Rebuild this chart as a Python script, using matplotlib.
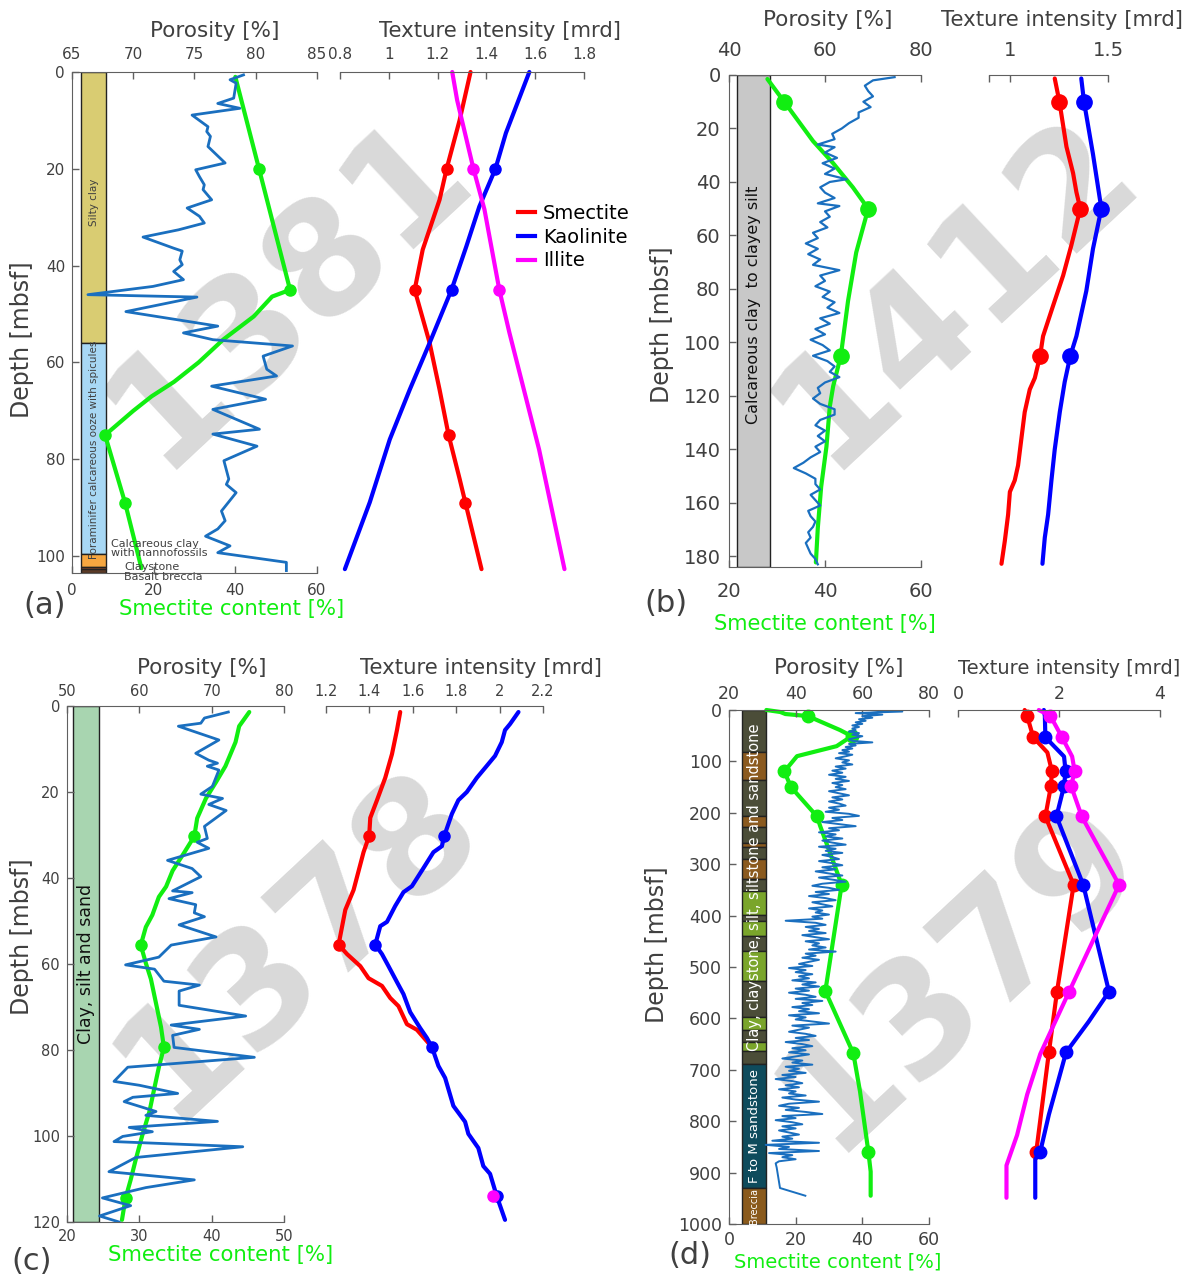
import numpy as np
import matplotlib
matplotlib.use('Agg')
import matplotlib.pyplot as plt
from matplotlib.patches import Rectangle
from matplotlib.lines import Line2D

#%% Data (depth [mbsf], value)

# --- Site 1381 (a)
por_a = np.array([
    [0.6, 79.0], [1.6, 77.9], [2.3, 78.4], [5.4, 78.2], [6.5, 76.9], [7.5, 78.7], [8.9, 74.8],
    [11.3, 76.1], [12.3, 76.0], [13.3, 76.3], [15.4, 76.1], [18.8, 77.5], [20.2, 75.1], [21.6, 75.4],
    [23.3, 75.8], [24.3, 75.7], [26.4, 76.4], [28.1, 74.4], [29.8, 75.4], [31.2, 75.8], [32.6, 73.7],
    [34.1, 70.8], [36.4, 73.3], [37.0, 74.0], [38.8, 73.8], [39.8, 74.0], [41.2, 73.3], [42.9, 74.1],
    [44.3, 71.6], [46.0, 66.3], [46.5, 75.2], [49.5, 69.4], [52.5, 76.9], [53.9, 74.1], [55.3, 76.5],
    [56.6, 83.0], [58.7, 80.6], [61.4, 80.9], [62.8, 81.7], [64.9, 76.4], [67.6, 80.8], [69.7, 76.5],
    [73.8, 80.3], [74.8, 76.5], [77.3, 80.1], [80.3, 77.4], [84.1, 77.8], [85.2, 77.6], [86.9, 78.4],
    [90.7, 77.2], [92.7, 77.5], [94.4, 76.9], [95.9, 75.9], [97.9, 77.9], [99.3, 76.9], [101.3, 82.5],
    [103.0, 82.5]])
smec_a = np.array([[1, 40], [20, 45.8], [45, 53.4], [46.4, 49], [50.5, 44.5], [55.3, 37], [60, 31],
                   [64, 25], [67, 19.5], [70, 15], [75, 8.1], [89, 13], [102.5, 17]])
smec_a_marks = [1, 2, 10, 11]
red_a = np.array([[0, 1.335], [10, 1.29], [20, 1.237], [26.4, 1.208], [36.7, 1.139], [45, 1.106],
                  [55.9, 1.167], [65.6, 1.208], [75, 1.245], [84, 1.29], [89, 1.314], [102.7, 1.38]])
red_a_marks = [2, 5, 8, 10]
blue_a = np.array([[0, 1.576], [12.6, 1.48], [20, 1.437], [27.8, 1.371], [36, 1.318], [45, 1.257],
                   [56, 1.167], [65.6, 1.086], [75.9, 1.004], [88.9, 0.922], [102.7, 0.82]])
blue_a_marks = [2, 5]
mag_a = np.array([[0, 1.26], [5.8, 1.28], [20, 1.347], [28.4, 1.392], [45, 1.453], [53.8, 1.494],
                  [78, 1.616], [102.7, 1.72]])
mag_a_marks = [2, 4]
lith_a_top = [0, 56, 99.6, 102.2, 102.6]
lith_a_base = [56, 99.6, 102.2, 102.6, 103.5]
lith_a_col = ['#d9cc72', '#a8d8f5', '#f5a640', '#a0522d', '#5b3a26']

# --- Site 1412 (b)
por_b = np.array([
    [0.8, 74.5], [2, 70], [4, 68.3], [6, 69], [8, 70], [10, 68], [12, 69.5], [14, 67], [16, 67],
    [18, 65], [20, 63.5], [22, 61.5], [24, 62], [26, 58.5], [27, 62], [29, 60], [31, 62.5], [33, 59.5],
    [35, 62], [37, 60], [39, 64.5], [40, 61], [42, 59], [44, 60], [46, 62], [48, 58.5], [49, 63],
    [51, 60], [53, 61], [55, 59], [57, 60.5], [59, 57.5], [61, 58.5], [63, 56], [65, 58.5], [67, 56.5],
    [69, 59], [71, 57.5], [73, 63], [75, 59], [77, 60], [79, 58], [81, 61], [83, 59.5], [85, 62],
    [87, 60.5], [89, 63], [91, 59], [93, 61], [95, 58], [97, 60], [99, 57], [101, 59.5], [103, 61],
    [105, 57.5], [107, 60.5], [109, 62], [111, 61], [113, 63], [115, 60], [117, 58.5], [119, 59],
    [121, 57.5], [123, 59], [125, 62], [127, 62], [129, 59], [131, 58], [133, 60], [135, 58.5],
    [137, 60], [139, 58], [141, 59], [143, 57], [145, 55.5], [147, 53.5], [149, 56], [151, 58],
    [153, 58], [155, 59], [157, 57], [159, 58], [161, 59], [163, 56.5], [165, 57], [167, 58],
    [169, 57.5], [171, 56.5], [173, 57], [175, 56], [177, 56.5], [179, 57], [181, 58], [183, 58.5]])
smec_b = np.array([[1.5, 28.0], [10, 31.5], [24.7, 37.5], [33, 41.7], [42, 45.8], [50, 49],
                   [66.4, 46.5], [84.5, 44.8], [105, 43.3], [116.4, 41.7], [124, 41.0], [139, 40.3],
                   [154, 39.2], [169.4, 38.5], [182.3, 38.1]])
smec_b_marks = [1, 5, 8]
red_b = np.array([[1.3, 1.227], [10, 1.251], [26.8, 1.287], [36.7, 1.321], [43.8, 1.338], [50, 1.358],
                  [63.7, 1.312], [75, 1.270], [86.4, 1.218], [97.7, 1.167], [105, 1.152], [113.3, 1.125],
                  [117.6, 1.099], [126.1, 1.073], [136, 1.056], [146, 1.039], [151.6, 1.022],
                  [155.9, 0.997], [164.4, 0.988], [174.3, 0.971], [182.8, 0.954]])
red_b_marks = [1, 5, 10]
blue_b = np.array([[1.3, 1.363], [10, 1.377], [29.6, 1.423], [50, 1.466], [65, 1.423], [80.7, 1.389],
                   [97.7, 1.338], [105, 1.307], [114.8, 1.278], [126, 1.253], [140, 1.227],
                   [151.6, 1.210], [164.4, 1.193], [173, 1.176], [182.8, 1.164]])
blue_b_marks = [1, 3, 7]

# --- Site 1378 (c)
por_c = np.array([
    [1.4, 72.3], [2.8, 69.0], [4.0, 68.5], [4.7, 65.4], [7.9, 71.0], [11.0, 67.8], [12.6, 69.6],
    [13.3, 70.8], [14.0, 69.4], [14.9, 71.0], [18.7, 70.1], [20.5, 68.5], [21.5, 71.5], [22.9, 69.6],
    [24.3, 72.0], [28.0, 69.0], [30.8, 69.4], [31.7, 68.0], [33.1, 69.6], [35.9, 63.9], [37.8, 67.3],
    [39.7, 68.5], [43.0, 64.6], [43.4, 67.3], [44.8, 64.1], [46.2, 67.8], [48.1, 67.6], [49.0, 69.0],
    [50.9, 65.5], [53.7, 70.6], [55.6, 64.4], [58.4, 62.7], [60.2, 58.1], [61.2, 62.1], [64.0, 63.4],
    [64.9, 68.3], [66.3, 65.5], [69.6, 65.5], [72.1, 74.7], [74.2, 64.4], [75.2, 68.3], [76.6, 64.6],
    [79.4, 64.8], [81.7, 75.9], [84.0, 58.4], [87.3, 56.5], [88.2, 60.0], [90.1, 65.3], [91.0, 59.1],
    [92.0, 57.9], [94.3, 62.3], [95.2, 60.9], [96.6, 70.8], [98.0, 58.6], [99.0, 61.8], [100.1, 57.7],
    [101.3, 56.5], [102.5, 74.3], [105.0, 59.5], [108.3, 55.8], [110.2, 67.6], [112.0, 60.9],
    [114.4, 54.9], [116.2, 58.8], [118.6, 54.5], [120.0, 57.2]])
smec_c = np.array([[1.4, 45.2], [4.7, 43.8], [8.4, 43.3], [14, 41.9], [17.7, 40.6], [21.5, 39.2],
                   [26.1, 38.0], [30.3, 37.6], [34.1, 36.2], [38.3, 34.6], [42, 33.7], [44.4, 32.7],
                   [48.6, 31.8], [51.4, 30.9], [55.6, 30.2], [59.8, 30.9], [63.5, 31.6], [69.1, 32.3],
                   [74.7, 33.0], [79.4, 33.4], [84, 32.7], [88.7, 32.1], [94.3, 31.4], [99.9, 30.4],
                   [105.5, 29.5], [110.2, 28.8], [114.4, 28.1], [119.5, 27.6]])
smec_c_marks = [7, 14, 19, 26]
red_c = np.array([[1.4, 1.542], [5.6, 1.527], [11.2, 1.504], [16.7, 1.473], [21.9, 1.435], [26, 1.404],
                  [30.2, 1.399], [34, 1.373], [42.8, 1.327], [47.4, 1.289], [55.5, 1.258], [57.7, 1.297],
                  [60.5, 1.358], [63.3, 1.396], [65.1, 1.458], [67.9, 1.496], [69.8, 1.534], [74, 1.573],
                  [75.3, 1.619], [79.3, 1.688]])
red_c_marks = [6, 10]
blue_c = np.array([[1.4, 2.087], [4.2, 2.048], [5.6, 2.025], [8.4, 2.010], [11.6, 1.979], [14.4, 1.933],
                   [16.7, 1.895], [20, 1.849], [21.9, 1.810], [25.1, 1.780], [30.2, 1.745], [32.6, 1.734],
                   [34, 1.695], [37.7, 1.649], [41.9, 1.596], [43.3, 1.557], [46.5, 1.519], [50.2, 1.481],
                   [51.2, 1.450], [55.5, 1.427], [57.7, 1.458], [60.5, 1.488], [64.2, 1.527], [67, 1.557],
                   [71.2, 1.588], [74.9, 1.634], [77.2, 1.665], [79.3, 1.688], [83.7, 1.718], [86.5, 1.749],
                   [93, 1.787], [96.7, 1.841], [99.5, 1.856], [102.8, 1.902], [107, 1.925], [108.8, 1.956],
                   [114, 1.987], [119.5, 2.025]])
blue_c_marks = [10, 19, 27, 36]
mag_c = np.array([[114, 1.971]])

# --- Site 1379 (d)
por_d = np.array([
    [0, 62], [3, 72], [6, 58], [9, 66], [12, 60], [15, 63], [18, 59], [21, 61], [24, 58], [27, 60],
    [30, 57], [33, 59], [36, 57], [39, 58], [42, 56], [45, 59], [48, 57], [51, 60], [54, 58], [57, 56],
    [60, 57], [63, 63], [66, 56], [69, 58], [72, 55], [75, 57], [78, 54], [81, 56], [84, 53], [87, 57],
    [90, 55], [94, 52], [98, 56], [102, 54], [106, 57], [110, 52], [114, 55], [118, 51], [122, 54],
    [126, 50], [130, 55], [134, 52], [138, 56], [142, 51], [146, 54], [150, 52], [154, 55], [158, 50],
    [162, 53], [166, 56], [170, 51], [174, 54], [178, 50], [182, 53], [186, 55], [190, 50], [194, 53],
    [198, 49], [202, 56], [206, 59], [210, 51], [214, 54], [218, 48], [222, 53], [226, 58], [230, 50],
    [234, 53], [238, 47], [242, 52], [246, 49], [250, 54], [254, 48], [258, 51], [262, 55], [266, 47],
    [270, 52], [274, 49], [278, 54], [282, 48], [286, 51], [290, 53], [294, 47], [298, 51], [302, 54],
    [306, 48], [310, 52], [314, 46], [318, 50], [322, 54], [326, 47], [330, 51], [334, 55], [338, 48],
    [342, 45], [346, 50], [350, 53], [354, 46], [358, 50], [362, 44], [366, 49], [370, 52], [374, 45],
    [378, 48], [382, 51], [386, 44], [390, 48], [394, 46], [398, 50], [402, 45], [406, 48], [410, 37],
    [414, 46], [418, 49], [422, 43], [426, 47], [430, 44], [434, 49], [438, 42], [442, 46], [446, 50],
    [450, 43], [454, 47], [458, 45], [462, 49], [466, 44], [470, 52], [474, 43], [478, 46], [482, 42],
    [486, 47], [490, 44], [494, 41], [498, 45], [502, 38], [506, 43], [510, 40], [514, 45], [518, 41],
    [522, 44], [526, 39], [530, 46], [534, 42], [538, 47], [542, 40], [546, 44], [550, 38], [554, 43],
    [558, 46], [562, 40], [566, 48], [570, 42], [574, 45], [578, 39], [582, 44], [586, 41], [590, 47],
    [594, 38], [598, 43], [602, 40], [606, 45], [610, 50], [614, 39], [618, 44], [622, 41], [626, 38],
    [630, 43], [634, 46], [638, 40], [642, 44], [646, 37], [650, 42], [654, 45], [658, 39], [662, 43],
    [666, 38], [670, 44], [674, 40], [678, 36], [682, 42], [686, 39], [690, 45], [694, 37], [698, 41],
    [702, 38], [706, 43], [710, 36], [714, 40], [718, 34], [722, 39], [726, 42], [730, 37], [734, 41],
    [738, 35], [742, 40], [746, 38], [750, 43], [754, 36], [758, 40], [762, 47], [766, 38], [770, 35],
    [774, 41], [778, 37], [782, 43], [786, 48], [790, 36], [794, 40], [798, 34], [802, 39], [806, 42],
    [810, 36], [814, 40], [818, 35], [822, 38], [826, 41], [830, 36], [834, 39], [838, 33], [842, 47],
    [846, 31], [850, 38], [854, 35], [858, 47], [862, 32], [866, 39], [870, 36], [874, 40], [878, 35],
    [882, 34], [890, 34.3], [930, 35.3], [945, 42.9]])
smec_d = np.array([[0, 11.2], [3.9, 15.4], [7.8, 16.9], [11.7, 23.6], [39, 33.3], [50.8, 36.8],
                   [70.3, 32.3], [89.8, 20.4], [101.6, 18.9], [119.5, 16.6], [150, 18.6], [207, 26.4],
                   [226.6, 27.4], [340, 33.8], [547, 28.9], [668, 37.3], [742, 39.3], [859, 41.8],
                   [898, 42.5], [945, 42.5]])
smec_d_marks = [3, 5, 9, 10, 11, 13, 14, 15, 17]
red_d = np.array([[0, 1.32], [11.7, 1.37], [53, 1.49], [82.7, 1.77], [119, 1.86], [148, 1.84],
                  [207, 1.73], [340, 2.29], [548, 1.96], [666, 1.80], [859, 1.55]])
red_d_marks = [1, 2, 4, 5, 6, 7, 8, 9, 10]
blue_d = np.array([[0, 1.70], [11.7, 1.72], [53, 1.73], [90.5, 2.10], [119, 2.13], [148, 2.10],
                   [207, 1.95], [340, 2.48], [548, 2.99], [606, 2.59], [666, 2.14], [716, 2.0],
                   [787, 1.80], [859, 1.63], [874, 1.53], [949, 1.53]])
blue_d_marks = [2, 4, 5, 6, 7, 8, 10, 13]
mag_d = np.array([[0, 1.60], [11.7, 1.83], [53, 2.06], [90.5, 2.26], [119, 2.31], [148, 2.24],
                  [207, 2.45], [340, 3.19], [548, 2.20], [669, 1.63], [748, 1.37], [827, 1.17],
                  [886, 0.96], [949, 0.96]])
mag_d_marks = [1, 2, 4, 5, 6, 7, 8]
lith_d_top = [0, 82, 137, 207, 227, 258, 266, 289, 328, 352, 398, 410, 439, 469, 527, 598, 623, 645, 664, 688, 930]
lith_d_base = [82, 137, 207, 227, 258, 266, 289, 328, 352, 398, 410, 439, 469, 527, 598, 623, 645, 664, 688, 930, 1000]
lith_d_kind = ['o', 'b', 'o', 'b', 'o', 'b', 'o', 'b', 'o', 'g', 'o', 'g', 'o', 'g', 'o', 'g', 'o', 'g', 'o', 't', 'r']

#%% Figure helpers

W, H = 1191, 1279
fig = plt.figure(figsize=(W / 100, H / 100), dpi=100)

GRAY = '#404040'
SPINE = '#606060'
GREEN = '#11ee11'
PORBLUE = '#1a6fbf'
LITH_D_COLORS = {'o': '#4b4d38', 'b': '#8b5a1f', 'g': '#7aa52b', 't': '#0e4b5c', 'r': '#8a5a1c'}


def box(l, t, r, b):
    return [l / W, 1 - b / H, (r - l) / W, (b - t) / H]


def ftext(x, y, s, **kw):
    fig.text(x / W, 1 - y / H, s, **kw)


def style_ticks(ax, fs, xpad, ypad=4):
    ax.tick_params(direction='in', length=5, width=1, colors=SPINE, labelcolor=GRAY, labelsize=fs)
    ax.tick_params(axis='x', pad=xpad)
    ax.tick_params(axis='y', pad=ypad)
    for s in ax.spines.values():
        s.set_color(SPINE)


def main_axes(b, sm_lim, sm_ticks, por_lim, por_ticks, dmax, dticks, fs, xpad, ypad):
    ax = fig.add_axes(box(*b))
    ax.set_facecolor('none')
    ax.set_xlim(sm_lim)
    ax.set_xticks(sm_ticks)
    ax.set_ylim(dmax, 0)
    ax.set_yticks(dticks)
    ax.spines['right'].set_visible(False)
    ax.spines['top'].set_visible(False)
    style_ticks(ax, fs, xpad, ypad)
    axp = ax.twiny()
    axp.set_facecolor('none')
    axp.set_xlim(por_lim)
    axp.set_xticks(por_ticks)
    for s in ['right', 'left', 'bottom']:
        axp.spines[s].set_visible(False)
    style_ticks(axp, fs, xpad)
    axp.set_zorder(ax.get_zorder() + 1)
    return ax, axp


def tex_axes(b, lim, ticks, labels, dmax, fs, xpad):
    ax = fig.add_axes(box(*b))
    ax.set_facecolor('none')
    ax.set_xlim(lim)
    ax.set_ylim(dmax, 0)
    ax.xaxis.tick_top()
    ax.set_xticks(ticks)
    ax.set_xticklabels(labels)
    ax.set_yticks([])
    for s in ['left', 'right', 'bottom']:
        ax.spines[s].set_visible(False)
    style_ticks(ax, fs, xpad)
    return ax


def series(ax, data, color, marks=None, lw=3, ms=9):
    ax.plot(data[:, 1], data[:, 0], color=color, lw=lw, solid_capstyle='round', clip_on=False)
    if marks is not None:
        ax.plot(data[marks, 1], data[marks, 0], 'o', color=color, ms=ms, clip_on=False)


def lith(ax, tops, bases, colors, x0, x1):
    tr = ax.get_yaxis_transform()
    for t, bb, c in zip(tops, bases, colors):
        ax.add_patch(Rectangle((x0, t), x1 - x0, bb - t, transform=tr, facecolor=c,
                               edgecolor='#222222', lw=1, zorder=1))


def watermark(x, y, s):
    ftext(x, y, s, rotation=43, fontsize=112, color='#d9d9d9', ha='center', va='center',
          fontweight='bold', zorder=-5, rotation_mode='anchor')


#%% Panel (a) - 1381
watermark(288, 292, '1381')
ax, axp = main_axes((72, 72, 317, 573), (0, 60), [0, 20, 40, 60], (65, 85), [65, 70, 75, 80, 85],
                    103.5, [0, 20, 40, 60, 80, 100], 11, 7, 5)
lith(ax, lith_a_top, lith_a_base, lith_a_col, 0.037, 0.139)
tr = ax.get_yaxis_transform()
ax.text(0.088, 27, 'Silty clay', rotation=90, transform=tr, ha='center', va='center', fontsize=7.5, color=GRAY)
ax.text(0.088, 78, 'Foraminifer calcareous ooze with spicules', rotation=90, transform=tr,
        ha='center', va='center', fontsize=7.5, color=GRAY)
axp.plot(por_a[:, 1], por_a[:, 0], color=PORBLUE, lw=2)
series(ax, smec_a, GREEN, smec_a_marks, ms=8)
ftext(111, 544, 'Calcareous clay', fontsize=8, color=GRAY, va='center')
ftext(111, 553, 'with nannofossils', fontsize=8, color=GRAY, va='center')
ftext(124, 567, 'Claystone', fontsize=8, color=GRAY, va='center')
ftext(124, 577, 'Basalt breccia', fontsize=8, color=GRAY, va='center')

axt = tex_axes((340, 72, 584, 573), (0.8, 1.8), [0.8, 1, 1.2, 1.4, 1.6, 1.8],
               ['0.8', '1', '1.2', '1.4', '1.6', '1.8'], 103.5, 11, 7)
series(axt, red_a, 'red', red_a_marks, ms=8)
series(axt, blue_a, 'blue', blue_a_marks, ms=8)
series(axt, mag_a, 'magenta', mag_a_marks, ms=8)
handles = [Line2D([], [], color=c, lw=3) for c in ['red', 'blue', 'magenta']]
fig.legend(handles, ['Smectite', 'Kaolinite', 'Illite'], loc='upper left',
           bbox_to_anchor=(510 / W, 1 - 196 / H), frameon=False, fontsize=14,
           handlelength=0.9, handletextpad=0.4, labelspacing=0.25, borderaxespad=0)

ftext(215, 31, 'Porosity [%]', fontsize=15.5, color=GRAY, ha='center', va='center')
ftext(500, 31, 'Texture intensity [mrd]', fontsize=15.3, color=GRAY, ha='center', va='center')
ftext(232, 609, 'Smectite content [%]', fontsize=15.3, color=GREEN, ha='center', va='center')
ftext(22, 340, 'Depth [mbsf]', fontsize=17, color=GRAY, ha='center', va='center', rotation=90)
ftext(45, 605, '(a)', fontsize=22, color=GRAY, ha='center', va='center')

#%% Panel (b) - 1412
watermark(955, 292, '1412')
ax, axp = main_axes((729, 75, 921, 567), (20, 60), [20, 40, 60], (40, 80), [40, 60, 80],
                    184, [0, 20, 40, 60, 80, 100, 120, 140, 160, 180], 14, 11, 6)
lith(ax, [0], [184], ['#c8c8c8'], 0.042, 0.214)
ax.text(0.128, 86, 'Calcareous clay  to clayey silt', rotation=90, transform=ax.get_yaxis_transform(),
        ha='center', va='center', fontsize=11.5, color='#111111')
axp.plot(por_b[:, 1], por_b[:, 0], color=PORBLUE, lw=1.6)
series(ax, smec_b, GREEN, smec_b_marks, ms=11)

axt = tex_axes((989, 75, 1108, 567), (0.89, 1.5), [0.89, 1, 1.5], ['', '1', '1.5'], 184, 14, 11)
series(axt, red_b, 'red', red_b_marks, ms=11)
series(axt, blue_b, 'blue', blue_b_marks, ms=11)

ftext(828, 20, 'Porosity [%]', fontsize=15.5, color=GRAY, ha='center', va='center')
ftext(1062, 20, 'Texture intensity [mrd]', fontsize=15.3, color=GRAY, ha='center', va='center')
ftext(825, 624, 'Smectite content [%]', fontsize=15, color=GREEN, ha='center', va='center')
ftext(662, 325, 'Depth [mbsf]', fontsize=17, color=GRAY, ha='center', va='center', rotation=90)
ftext(666, 603, '(b)', fontsize=22, color=GRAY, ha='center', va='center')

#%% Panel (c) - 1378
watermark(298, 945, '1378')
ax, axp = main_axes((67, 706, 284, 1222), (20, 50), [20, 30, 40, 50], (50, 80), [50, 60, 70, 80],
                    120, [0, 20, 40, 60, 80, 100, 120], 10.5, 5, 5)
lith(ax, [0], [120], ['#a8d5b0'], 0.028, 0.147)
ax.text(0.088, 60, 'Clay, silt and sand', rotation=90, transform=ax.get_yaxis_transform(),
        ha='center', va='center', fontsize=12.5, color='#111111')
axp.plot(por_c[:, 1], por_c[:, 0], color=PORBLUE, lw=2)
series(ax, smec_c, GREEN, smec_c_marks, ms=8)

axt = tex_axes((326, 706, 543, 1222), (1.2, 2.2), [1.2, 1.4, 1.6, 1.8, 2, 2.2],
               ['1.2', '1.4', '1.6', '1.8', '2', '2.2'], 120, 10.5, 5)
series(axt, red_c, 'red', red_c_marks, ms=8)
series(axt, blue_c, 'blue', blue_c_marks, ms=8)
series(axt, mag_c, 'magenta', [0], ms=8)

ftext(202, 668, 'Porosity [%]', fontsize=15.5, color=GRAY, ha='center', va='center')
ftext(481, 668, 'Texture intensity [mrd]', fontsize=15.3, color=GRAY, ha='center', va='center')
ftext(221, 1255, 'Smectite content [%]', fontsize=15.3, color=GREEN, ha='center', va='center')
ftext(22, 937, 'Depth [mbsf]', fontsize=17, color=GRAY, ha='center', va='center', rotation=90)
ftext(32, 1262, '(c)', fontsize=22, color=GRAY, ha='center', va='center')

#%% Panel (d) - 1379
watermark(960, 975, '1379')
ax, axp = main_axes((729, 710, 929, 1224), (0, 60), [0, 20, 40, 60], (20, 80), [20, 40, 60, 80],
                    1000, [0, 100, 200, 300, 400, 500, 600, 700, 800, 900, 1000], 12.5, 5, 5)
lith(ax, lith_d_top, lith_d_base, [LITH_D_COLORS[k] for k in lith_d_kind], 0.063, 0.187)
tr = ax.get_yaxis_transform()
ax.text(0.125, 344, 'Clay, claystone, silt, siltstone and sandstone', rotation=90, transform=tr,
        ha='center', va='center', fontsize=10.5, color='white')
ax.text(0.125, 810, 'F to M sandstone', rotation=90, transform=tr,
        ha='center', va='center', fontsize=9.5, color='white')
ax.text(0.125, 965, 'Breccia', rotation=90, transform=tr,
        ha='center', va='center', fontsize=7, color='white')
axp.plot(por_d[:, 1], por_d[:, 0], color=PORBLUE, lw=1.4)
series(ax, smec_d, GREEN, smec_d_marks, ms=9)

axt = tex_axes((958, 710, 1160, 1224), (0, 4), [0, 2, 4], ['0', '2', '4'], 1000, 12.5, 5)
series(axt, red_d, 'red', red_d_marks, ms=9)
series(axt, blue_d, 'blue', blue_d_marks, ms=9)
series(axt, mag_d, 'magenta', mag_d_marks, ms=9)

ftext(839, 668, 'Porosity [%]', fontsize=15.5, color=GRAY, ha='center', va='center')
ftext(1069, 668, 'Texture intensity [mrd]', fontsize=14, color=GRAY, ha='center', va='center')
ftext(838, 1262, 'Smectite content [%]', fontsize=14, color=GREEN, ha='center', va='center')
ftext(657, 945, 'Depth [mbsf]', fontsize=17, color=GRAY, ha='center', va='center', rotation=90)
ftext(690, 1255, '(d)', fontsize=22, color=GRAY, ha='center', va='center')

fig.savefig('out.png', dpi=100)
